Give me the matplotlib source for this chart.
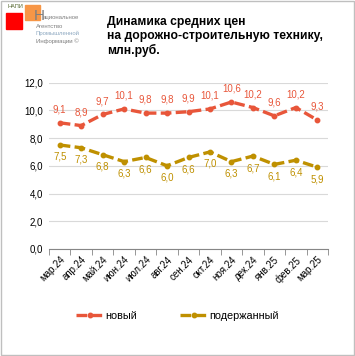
import matplotlib.pyplot as plt
from matplotlib.patches import Rectangle

# данные
meses = ['мар.24', 'апр.24', 'май.24', 'июн.24', 'июл.24', 'авг.24', 'сен.24',
         'окт.24', 'ноя.24', 'дек.24', 'янв.25', 'фев.25', 'мар.25']
novyi = [9.1, 8.9, 9.7, 10.1, 9.8, 9.8, 9.9, 10.1, 10.6, 10.2, 9.6, 10.2, 9.3]
poderzh = [7.5, 7.3, 6.8, 6.3, 6.6, 6.0, 6.6, 7.0, 6.3, 6.7, 6.1, 6.4, 5.9]

cor_novo = '#E8563A'
cor_usado = '#BF9000'

plt.rcParams['font.family'] = ['Liberation Sans', 'DejaVu Sans']

fig = plt.figure(figsize=(3.55, 3.56), dpi=100)
ax = fig.add_axes([0.138, 0.3006, 0.786, 0.4674])

x = list(range(len(meses)))
l1, = ax.plot(x, novyi, color=cor_novo, lw=2.4, ls=(0, (3.2, 1.3)), marker='o', ms=3.2,
              label='новый')
l2, = ax.plot(x, poderzh, color=cor_usado, lw=2.4, ls=(0, (3.2, 1.3)), marker='o', ms=3.2,
              label='подержанный')

for i in x:
    ax.annotate(f'{novyi[i]:.1f}'.replace('.', ','), (i, novyi[i]), xytext=(0, 6),
                textcoords='offset points', ha='center', va='bottom', fontsize=7, color=cor_novo)
    ax.annotate(f'{poderzh[i]:.1f}'.replace('.', ','), (i, poderzh[i]), xytext=(0, -5),
                textcoords='offset points', ha='center', va='top', fontsize=7, color=cor_usado)

ax.set_xlim(-0.5, len(meses) - 0.5)
ax.set_ylim(0, 12)
ax.set_yticks([0, 2, 4, 6, 8, 10, 12])
ax.set_yticklabels([f'{v:.1f}'.replace('.', ',') for v in [0, 2, 4, 6, 8, 10, 12]], fontsize=7)
ax.set_xticks(x)
ax.set_xticklabels(meses, rotation=45, ha='right', rotation_mode='anchor', fontsize=7)
ax.set_xticks([i - 0.5 for i in range(len(meses) + 1)], minor=True)
ax.tick_params(axis='x', which='major', length=0, pad=4)
ax.tick_params(axis='x', which='minor', length=4, color='#868686', direction='out')
ax.tick_params(axis='y', length=0, pad=4)
ax.grid(axis='y', color='#D9D9D9', lw=0.8)
ax.set_axisbelow(True)
for s in ['top', 'right', 'left']:
    ax.spines[s].set_visible(False)
ax.spines['bottom'].set_color('#868686')
ax.spines['bottom'].set_linewidth(0.8)

fig.legend(handles=[l1, l2], loc='center', bbox_to_anchor=(0.5, 0.113), ncol=2, frameon=False,
           fontsize=7.8, handlelength=2.6, columnspacing=4, handletextpad=0.1)

# título
fig.text(0.301, 0.955, 'Динамика средних цен\nна дорожно-строительную технику,\nмлн.руб.',
         ha='left', va='top', fontsize=8.7, fontweight='bold', linespacing=1.2)

# logo
fig.patches.append(Rectangle((6 / 355, 1 - 29 / 356), 16 / 355, 16 / 356,
                             transform=fig.transFigure, color='#FF0000'))
fig.patches.append(Rectangle((25 / 355, 1 - 20 / 356), 15 / 355, 15 / 356,
                             transform=fig.transFigure, color='#F79646'))
fig.text(7 / 355, 1 - 7 / 356, 'НАПИ', fontsize=4, color='#4F6228', va='center')
fig.text(33.5 / 355, 1 - 19.5 / 356, 'Н', fontsize=11, color='#7F7F7F', va='baseline')
fig.text(43 / 355, 1 - 19.5 / 356, 'ациональное', fontsize=4.3, color='#7F7F7F', va='baseline')
fig.text(36 / 355, 1 - 27.5 / 356, 'Агентство', fontsize=4.3, color='#7F7F7F', va='baseline')
fig.text(36 / 355, 1 - 35 / 356, 'Промышленной', fontsize=4.3, color='#8EA9C1', va='baseline')
fig.text(36 / 355, 1 - 42.5 / 356, 'Информации ©', fontsize=4.3, color='#7F7F7F', va='baseline')

# moldura
fig.patches.append(Rectangle((0.002, 0.004), 0.995, 0.993, transform=fig.transFigure,
                             fill=False, edgecolor='#BFBFBF', lw=1))

fig.savefig('out.png', dpi=100)
